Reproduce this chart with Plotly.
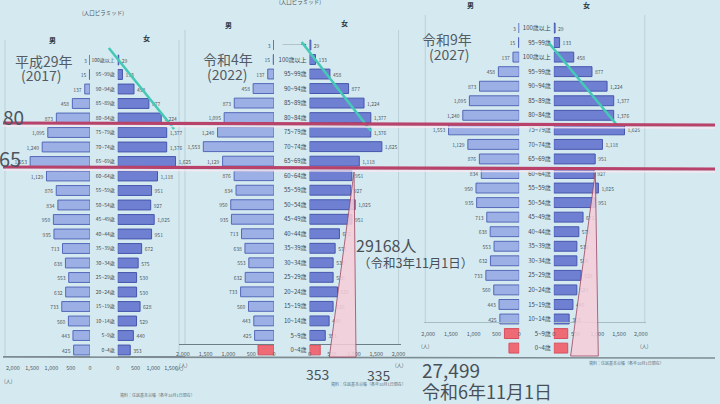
import plotly.graph_objects as go

W, H = 720, 404
FONT = "Noto Sans CJK JP"

# ---------------- data ----------------
ages = ["100歳以上", "95~99歳", "90~94歳", "85~89歳", "80~84歳", "75~79歳", "70~74歳",
        "65~69歳", "60~64歳", "55~59歳", "50~54歳", "45~49歳", "40~44歳", "35~39歳",
        "30~34歳", "25~29歳", "20~24歳", "15~19歳", "10~14歳", "5~9歳", "0~4歳"]

male_2017 = [3, 15, 137, 458, 873, 1095, 1240, 1553, 1129, 876, 834, 950, 935, 713, 638, 553, 632, 733, 560, 443, 425]
female_2017 = [29, 133, 458, 877, 1224, 1377, 1376, 1625, 1118, 951, 927, 1025, 951, 672, 575, 530, 530, 628, 529, 440, 353]

male_2022 = [3, 15, 137, 458, 873, 1095, 1240, 1553, 1129, 876, 834, 950, 935, 713, 638, 553, 632, 733, 560, 443, 425]
female_2022 = [29, 133, 458, 877, 1224, 1377, 1376, 1625, 1118, 951, 927, 1025, 951, 672, 575, 530, 530, 628, 529, 440, 353]
male_2022_red = [350]
female_2022_red = [240]

male_2027 = [3, 15, 137, 458, 873, 1095, 1240, 1553, 1129, 876, 834, 950, 935, 713, 638, 553, 632, 733, 560, 443, 425]
female_2027 = [29, 133, 458, 877, 1224, 1377, 1376, 1625, 1118, 951, 927, 1025, 951, 672, 575, 530, 530, 628, 529, 440, 353]
male_2027_red = [325, 225]
female_2027_red = [320, 320]

labels_2017 = ages
labels_2022 = ["───→"] + ages
labels_2027 = ["100歳以上", "95~99歳"] + ages

tick_vals = [0, 500, 1000, 1500, 2000]
tick_text = ["0", "500", "1,000", "1,500", "2,000"]

# ---------------- styling ----------------
BG = "#d5eaf0"
MALE = "#9cb0e6"
MALE_LINE = "#5468b8"
FEMALE = "#6f80d2"
FEMALE_LINE = "#4556ad"
RED = "#ee6a74"
TXT = "#4a525c"


def px(x):
    return x / W


def py(y):
    return 1 - y / H


fig = go.Figure()


def add_bars(vals, rows, xa, ya, color, line, show_text=True):
    fig.add_trace(go.Bar(
        x=vals, y=rows, orientation="h", xaxis=xa, yaxis=ya,
        marker=dict(color=color, line=dict(color=line, width=1)),
        width=0.68,
        text=[f"{v:,}" for v in vals] if show_text else None,
        textposition="outside", textfont=dict(size=5, color="#4d5560", family=FONT),
        constraintext="none", cliponaxis=False, hoverinfo="skip",
    ))


# panel 1 (2017)
r1 = list(range(len(male_2017)))
add_bars(male_2017, r1, "x", "y", MALE, MALE_LINE)
add_bars(female_2017, r1, "x2", "y", FEMALE, FEMALE_LINE)
# panel 2 (2022)
r2 = list(range(len(male_2022)))
add_bars(male_2022, r2, "x3", "y2", MALE, MALE_LINE)
add_bars(female_2022, r2, "x4", "y2", FEMALE, FEMALE_LINE)
r2r = [len(male_2022) + i for i in range(len(male_2022_red))]
add_bars(male_2022_red, r2r, "x3", "y2", RED, "#d45060", False)
add_bars(female_2022_red, r2r, "x4", "y2", RED, "#d45060", False)
# panel 3 (2027)
r3 = list(range(len(male_2027)))
add_bars(male_2027, r3, "x5", "y3", MALE, MALE_LINE)
add_bars(female_2027, r3, "x6", "y3", FEMALE, FEMALE_LINE)
r3r = [len(male_2027) + i for i in range(len(male_2027_red))]
add_bars(male_2027_red, r3r, "x5", "y3", RED, "#d45060", False)
add_bars(female_2027_red, r3r, "x6", "y3", RED, "#d45060", False)


def xaxis(x0, x1, zero, scale, reverse, line_y, ticklen, linecolor):
    # scale: pixels per 1000 people
    if reverse:
        rng = [(zero - x0) / scale * 1000, 0]
    else:
        rng = [0, (x1 - zero) / scale * 1000]
    return dict(domain=[px(x0), px(x1)], range=rng, anchor="free", position=py(line_y),
                tickvals=tick_vals, ticktext=tick_text, ticks="outside", ticklen=ticklen,
                tickcolor="rgba(0,0,0,0)", tickfont=dict(size=5.5, color="#505a64", family=FONT),
                showline=True, linecolor=linecolor, linewidth=1.2, showgrid=False,
                zeroline=False, fixedrange=True)


def yaxis(y0, dy, labels, pos, size):
    return dict(domain=[0, 1], range=[(H - y0) / dy, -y0 / dy], anchor="free", position=px(pos),
                tickvals=list(range(len(labels))), ticktext=labels, ticks="", side="left",
                ticklabelstandoff=3,
                tickfont=dict(size=size, color="#3f4750", family=FONT),
                showline=False, showgrid=False, zeroline=False, fixedrange=True)


fig.update_layout(
    width=W, height=H, margin=dict(l=0, r=0, t=0, b=0),
    paper_bgcolor=BG, plot_bgcolor="rgba(0,0,0,0)", showlegend=False,
    font=dict(family=FONT, color=TXT),
    barmode="overlay",
    xaxis=xaxis(0, 88, 88, 39, True, 356, 6, "#7e8e96"),
    xaxis2=xaxis(116, 184, 116, 36, False, 356, 6, "#7e8e96"),
    xaxis3=xaxis(178, 274, 274, 46, True, 344, 4, "#6e7e88"),
    xaxis4=xaxis(310, 402, 310, 45, False, 344, 4, "#6e7e88"),
    xaxis5=xaxis(426, 522, 522, 46, True, 322, 6, "#a8bcc4"),
    xaxis6=xaxis(557, 650, 557, 44, False, 322, 6, "#a8bcc4"),
    yaxis=yaxis(60, 14.5, labels_2017, 116, 5),
    yaxis2=yaxis(45, 14.52, labels_2022, 310, 6),
    yaxis3=yaxis(28, 14.55, labels_2027, 557, 6),
)

shapes = []
# faint panel frames
for (x0, y0, x1, y1) in [(2, 40, 178, 356), (184, 30, 400, 344), (427, 15, 649, 322)]:
    for xx in (x0, x1):
        shapes.append(dict(type="line", xref="paper", yref="paper", x0=px(xx), x1=px(xx), y0=py(y0), y1=py(y1),
                           line=dict(color="rgba(130,150,160,0.3)", width=1), layer="below"))

# full-width bottom rule
shapes.append(dict(type="line", xref="paper", yref="paper", x0=0, x1=1, y0=py(357), y1=py(358),
                   line=dict(color="#7d8b92", width=1.6)))


def tri(pts):
    return "M " + " L ".join(f"{px(a)},{py(b)}" for a, b in pts) + " Z"


for pts in [[(355, 172), (330, 357), (357, 357)], [(599, 172), (574, 356), (602, 356)]]:
    shapes.append(dict(type="path", xref="paper", yref="paper", path=tri(pts),
                       fillcolor="rgba(246,205,216,0.86)", line=dict(color="rgba(150,60,85,0.75)", width=1)))

# teal diagonals
for (a, b, c, d) in [(107, 48, 173, 129), (302, 42, 372, 131), (552, 43, 620, 124)]:
    shapes.append(dict(type="line", xref="paper", yref="paper", x0=px(a), y0=py(b), x1=px(c), y1=py(d),
                       line=dict(color="#45c9b6", width=2.6)))

# red horizontal markers (80 and 65)
for (ya, yb) in [(123, 125), (167, 169)]:
    shapes.append(dict(type="line", xref="paper", yref="paper", x0=0, y0=py(ya), x1=1, y1=py(yb),
                       line=dict(color="#b9426a", width=3.2)))
    shapes.append(dict(type="line", xref="paper", yref="paper", x0=0, y0=py(ya + 3), x1=1, y1=py(yb + 3),
                       line=dict(color="rgba(250,232,240,0.85)", width=1.6)))

fig.update_layout(shapes=shapes)

ann = []


def text(x, y, s, size, color=TXT, xanchor="center", yanchor="middle"):
    ann.append(dict(x=px(x), y=py(y), xref="paper", yref="paper", text=s, showarrow=False,
                    xanchor=xanchor, yanchor=yanchor, font=dict(size=size, color=color, family=FONT)))


text(23, 116, "80", 19, "#4c5560", xanchor="right")
text(20, 158, "65", 20, "#4c5560", xanchor="right")

text(41, 61, "平成29年", 14, "#535b64")
text(39, 75, "(2017)", 14, "#535b64")
text(228, 59, "令和4年", 14, "#535b64")
text(227, 74, "(2022)", 14, "#535b64")
text(449, 39, "令和9年", 14, "#535b64")
text(452, 54, "(2027)", 14, "#535b64")

text(50, 40, "<b>男</b>", 7, "#2e343a")
text(145, 38, "<b>女</b>", 7, "#2e343a")
text(228, 25, "<b>男</b>", 7, "#2e343a")
text(345, 23, "<b>女</b>", 7, "#2e343a")
text(473, 5, "<b>男</b>", 7, "#2e343a")
text(590, 5, "<b>女</b>", 7, "#2e343a")

text(101, 13, "(人口ピラミッド)", 5.5, "#4a525c")
text(300, 2, "(人口ピラミッド)", 5.5, "#4a525c")

text(355, 245, "29168人", 16, "#4a5058", xanchor="left")
text(357, 262, "（令和3年11月1日）", 12.5, "#4a5058", xanchor="left")
text(318, 374, "353", 14, "#4a5058")
text(380, 375, "335", 14, "#4a5058")
text(422, 369, "27,499", 19, "#4a5058", xanchor="left")
text(422, 391, "令和6年11月1日", 18, "#4a5058", xanchor="left")

for (x, y) in [(6, 380), (178, 367), (183, 364), (401, 364), (427, 345), (649, 345)]:
    text(x, y, "(人)", 5, "#556068")

src = "資料：住民基本台帳（各年10月1日現在）"
text(156, 395, src, 4, "#5f6e78")
text(370, 384, src, 4, "#5f6e78")
text(631, 363, src, 4, "#5f6e78")

fig.update_layout(annotations=ann)

fig.write_html("out.html", config={"displayModeBar": False},
               post_script="document.body.style.margin='0';document.body.style.background='%s';" % BG)
